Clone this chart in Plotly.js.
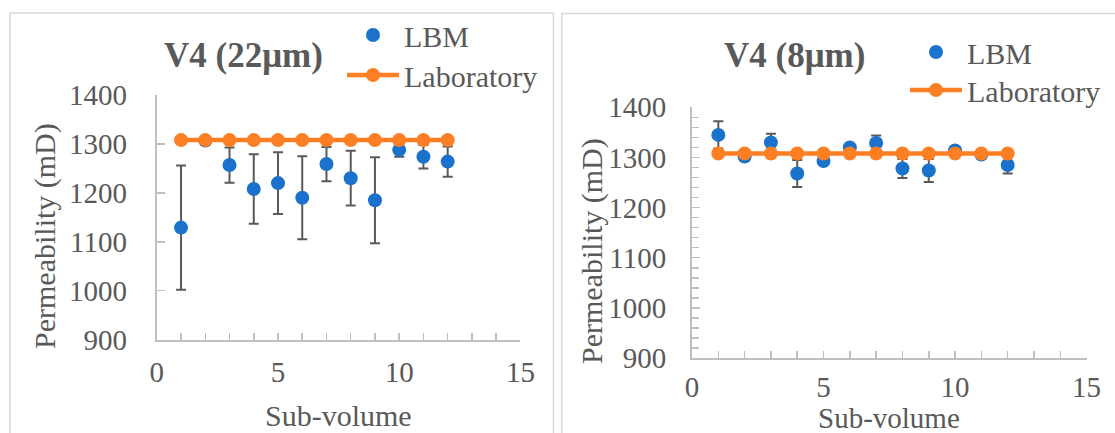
<!DOCTYPE html>
<html>
<head>
<meta charset="utf-8">
<script src="https://cdn.plot.ly/plotly-3.0.1.min.js"></script>
<style>html,body{margin:0;padding:0;background:#fff;}#chart{width:1115px;height:433px;}</style>
</head>
<body>
<div id="chart"></div>
<script>
// ---- data ----
const subVolume = [1, 2, 3, 4, 5, 6, 7, 8, 9, 10, 11, 12];
const lbm22 = [1129, 1307, 1257, 1208, 1220, 1190, 1259, 1230, 1185, 1288, 1274, 1264];
const lbm22Err = [127, 8, 36, 71, 63, 85, 35, 56, 88, 14, 24, 31];
const lab22 = [1308, 1308, 1308, 1308, 1308, 1308, 1308, 1308, 1308, 1308, 1308, 1308];
const lbm8 = [1345, 1302, 1330, 1268, 1293, 1320, 1329, 1278, 1274, 1314, 1306, 1285];
const lbm8Err = [27, 8, 17, 27, 6, 6, 15, 19, 23, 6, 6, 17];
const lab8 = [1308, 1308, 1308, 1308, 1308, 1308, 1308, 1308, 1308, 1308, 1308, 1308];
const xTicks = [0, 5, 10, 15];
const yTicks = [900, 1000, 1100, 1200, 1300, 1400];
const titles = ["V4 (22μm)", "V4 (8μm)"];
const seriesNames = ["LBM", "Laboratory"];
const xTitle = "Sub-volume";
const yTitle = "Permeability (mD)";

// ---- style ----
const FONT = "Liberation Serif, Times New Roman, serif";
const TXT = "#595959";
const AX = "#bfbfbf";
const BLUE = "#1a72cc";
const ORANGE = "#fd7f23";
const W = 1115, H = 433;
const px = v => v / W;
const py = v => 1 - v / H;

function lbmTrace(y, err, xa, ya, leg) {
  return {
    x: subVolume, y: y, type: "scatter", mode: "markers", name: seriesNames[0],
    xaxis: xa, yaxis: ya, legend: leg,
    marker: {color: BLUE, size: 14},
    error_y: {type: "data", array: err, visible: true, color: "#595959", thickness: 2, width: 5}
  };
}
function labTrace(y, xa, ya, leg) {
  return {
    x: subVolume, y: y, type: "scatter", mode: "lines+markers", name: seriesNames[1],
    xaxis: xa, yaxis: ya, legend: leg,
    line: {color: ORANGE, width: 4.5},
    marker: {color: ORANGE, size: 14}
  };
}

const data = [
  lbmTrace(lbm22, lbm22Err, "x", "y", "legend"),
  labTrace(lab22, "x", "y", "legend2"),
  lbmTrace(lbm8, lbm8Err, "x2", "y2", "legend3"),
  labTrace(lab8, "x2", "y2", "legend4")
];

function xAxis(domain, anchor, standoff) {
  return {
    domain: domain, anchor: anchor, range: [0, 15], tickvals: xTicks,
    ticks: "inside", ticklen: 7, tickwidth: 1.5, tickcolor: AX,
    minor: {dtick: 1, tick0: 0, ticks: "inside", ticklen: 7, tickwidth: 1.5, tickcolor: AX},
    showline: true, linecolor: AX, linewidth: 2, showgrid: false, zeroline: false,
    tickfont: {family: FONT, size: 29, color: TXT}, ticklabelstandoff: standoff, fixedrange: true
  };
}
function yAxis(domain, anchor, minor, standoff) {
  const a = {
    domain: domain, anchor: anchor, range: [900, 1400], tickvals: yTicks,
    ticks: "inside", ticklen: 8, tickwidth: 1.5, tickcolor: AX,
    showline: true, linecolor: AX, linewidth: 2, showgrid: false, zeroline: false,
    tickfont: {family: FONT, size: 29, color: TXT}, ticklabelstandoff: standoff, fixedrange: true
  };
  if (minor) a.minor = {dtick: 20, tick0: 900, ticks: "inside", ticklen: 7, tickwidth: 1.5, tickcolor: AX, showgrid: false};
  return a;
}
function legendAt(x, yTop) {
  return {
    x: px(x), y: py(yTop), xanchor: "left", yanchor: "top",
    bgcolor: "rgba(0,0,0,0)", borderwidth: 0, itemwidth: 52,
    font: {family: FONT, size: 30, color: TXT}
  };
}
function note(text, x, y, size, angle) {
  return {text: text, xref: "paper", yref: "paper", x: px(x), y: py(y), textangle: angle || 0,
    xanchor: "center", yanchor: "middle", showarrow: false, font: {family: FONT, size: size, color: TXT}};
}

const layout = {
  width: W, height: H,
  margin: {l: 0, r: 0, t: 0, b: 0},
  paper_bgcolor: "#ffffff", plot_bgcolor: "rgba(0,0,0,0)",
  showlegend: true,
  xaxis: xAxis([px(156.8), px(520.4)], "y", 6),
  yaxis: yAxis([py(339.6), py(95.1)], "x", false, 22),
  xaxis2: xAxis([px(692), px(1086.6)], "y2", 2),
  yaxis2: yAxis([py(358), py(107.3)], "x2", true, 18),
  legend: legendAt(342, 9),
  legend2: legendAt(342, 49),
  legend3: legendAt(905, 26),
  legend4: legendAt(905, 64),
  shapes: [
    {type: "rect", xref: "paper", yref: "paper", x0: px(10), x1: px(553.5), y0: py(440), y1: py(13),
     line: {color: "#d9d9d9", width: 1.5}, fillcolor: "rgba(0,0,0,0)", layer: "below"},
    {type: "rect", xref: "paper", yref: "paper", x0: px(561.7), x1: px(1120), y0: py(440), y1: py(13.5),
     line: {color: "#d9d9d9", width: 1.5}, fillcolor: "rgba(0,0,0,0)", layer: "below"}
  ],
  annotations: [
    note("<b>" + titles[0] + "</b>", 243, 56, 35),
    note("<b>" + titles[1] + "</b>", 795, 56, 35),
    note(yTitle, 45, 236, 30, -90),
    note(yTitle, 592, 251, 30, -90),
    note(xTitle, 338.6, 415, 30),
    note(xTitle, 889, 418, 29)
  ]
};

Plotly.newPlot("chart", data, layout, {staticPlot: true, displayModeBar: false});
</script>
</body>
</html>
